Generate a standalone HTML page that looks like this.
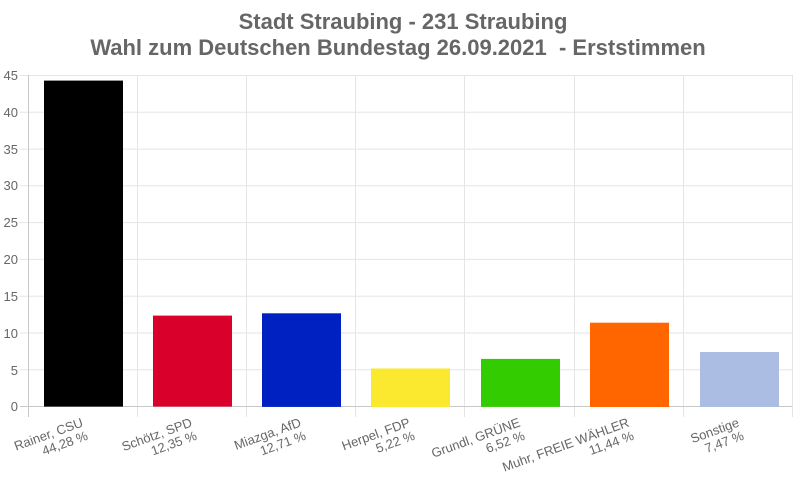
<!DOCTYPE html>
<html><head><meta charset="utf-8"><style>
html,body{margin:0;padding:0;background:#fff;width:806px;height:490px;overflow:hidden}
text{font-family:"Liberation Sans",Arial,sans-serif}
</style></head><body>
<svg width="806" height="490" xmlns="http://www.w3.org/2000/svg">
<text x="403" y="29" text-anchor="middle" font-size="22" font-weight="bold" fill="#666">Stadt Straubing - 231 Straubing</text>
<text x="398" y="55" text-anchor="middle" font-size="22" font-weight="bold" fill="#666" xml:space="preserve">Wahl zum Deutschen Bundestag 26.09.2021  - Erststimmen</text>
<g stroke="#e5e5e5" stroke-width="1">
<line x1="20" x2="792" y1="75.5" y2="75.5"/>
<line x1="20" x2="792" y1="112.3" y2="112.3"/>
<line x1="20" x2="792" y1="149.1" y2="149.1"/>
<line x1="20" x2="792" y1="185.8" y2="185.8"/>
<line x1="20" x2="792" y1="222.6" y2="222.6"/>
<line x1="20" x2="792" y1="259.4" y2="259.4"/>
<line x1="20" x2="792" y1="296.2" y2="296.2"/>
<line x1="20" x2="792" y1="333" y2="333"/>
<line x1="20" x2="792" y1="369.8" y2="369.8"/>
<line x1="137.5" x2="137.5" y1="75" y2="417"/>
<line x1="246.5" x2="246.5" y1="75" y2="417"/>
<line x1="355.5" x2="355.5" y1="75" y2="417"/>
<line x1="464.5" x2="464.5" y1="75" y2="417"/>
<line x1="574.5" x2="574.5" y1="75" y2="417"/>
<line x1="683.5" x2="683.5" y1="75" y2="417"/>
<line x1="792.5" x2="792.5" y1="75" y2="417"/>
</g>
<line x1="28.5" x2="28.5" y1="75" y2="417" stroke="#c8c8c8"/>
<line x1="20" x2="792" y1="406.5" y2="406.5" stroke="#c8c8c8"/>
<g font-size="13" fill="#666" text-anchor="end">
<text x="18" y="80">45</text><text x="18" y="117">40</text><text x="18" y="154">35</text>
<text x="18" y="190">30</text><text x="18" y="227">25</text><text x="18" y="264">20</text>
<text x="18" y="301">15</text><text x="18" y="338">10</text><text x="18" y="375">5</text>
<text x="18" y="411">0</text>
</g>
<rect x="44" y="80.6" width="79" height="326" fill="#000"/>
<rect x="153" y="315.6" width="79" height="91" fill="#d9002b"/>
<rect x="262" y="313.3" width="79" height="93.6" fill="#0021c1"/>
<rect x="371" y="368.5" width="79" height="38.5" fill="#fbe92f"/>
<rect x="481" y="358.9" width="79" height="48" fill="#33cc00"/>
<rect x="590" y="322.7" width="79" height="84.3" fill="#ff6600"/>
<rect x="700" y="352" width="79" height="55" fill="#abbde3"/>
<g font-size="13" fill="#666" text-anchor="end">
<g transform="translate(84,426) rotate(-20)"><text x="0" y="0">Rainer, CSU</text><text x="0" y="14">44,28 %</text></g>
<g transform="translate(193,426) rotate(-20)"><text x="0" y="0">Schötz, SPD</text><text x="0" y="14">12,35 %</text></g>
<g transform="translate(302,426) rotate(-20)"><text x="0" y="0">Miazga, AfD</text><text x="0" y="14">12,71 %</text></g>
<g transform="translate(411,426) rotate(-20)"><text x="0" y="0">Herpel, FDP</text><text x="0" y="14">5,22 %</text></g>
<g transform="translate(521,426) rotate(-20)"><text x="0" y="0">Grundl, GRÜNE</text><text x="0" y="14">6,52 %</text></g>
<g transform="translate(630,426) rotate(-20)"><text x="0" y="0">Muhr, FREIE WÄHLER</text><text x="0" y="14">11,44 %</text></g>
<g transform="translate(740,426) rotate(-20)"><text x="0" y="0">Sonstige</text><text x="0" y="14">7,47 %</text></g>
</g>
</svg>
</body></html>
